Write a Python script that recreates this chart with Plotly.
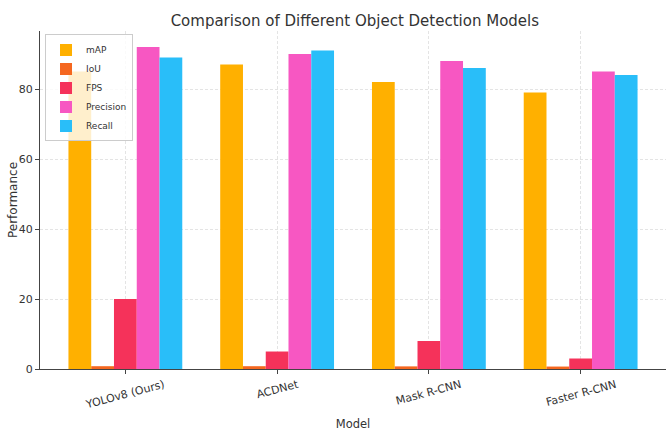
import plotly.graph_objects as go

models = ["YOLOv8 (Ours)", "ACDNet", "Mask R-CNN", "Faster R-CNN"]
mAP = [85, 87, 82, 79]
iou = [0.8, 0.8, 0.75, 0.7]
fps = [20, 5, 8, 3]
precision = [92, 90, 88, 85]
recall = [89, 91, 86, 84]

series = [("mAP", mAP, "#FFB000"), ("IoU", iou, "#F5671F"), ("FPS", fps, "#F5325A"),
          ("Precision", precision, "#F757C2"), ("Recall", recall, "#29BEF9")]

fig = go.Figure()
for name, vals, col in series:
    fig.add_trace(go.Bar(x=models, y=vals, name=name, marker=dict(color=col, line=dict(width=0))))

font = "DejaVu Sans, sans-serif"
for m in models:
    fig.add_annotation(x=m, y=0, xref="x", yref="y", text=m, showarrow=False, textangle=-15,
                       xanchor="center", yanchor="top", yshift=-6,
                       font=dict(size=11, color="#333", family=font))

# y-axis title
fig.add_annotation(x=0, y=0.5, xref="paper", yref="paper", text="Performance", showarrow=False,
                   textangle=-90, xanchor="center", yanchor="middle", xshift=-27,
                   font=dict(size=12, color="#333", family=font))

fig.update_layout(
    width=667, height=431,
    margin=dict(l=40, r=1, t=31, b=62),
    paper_bgcolor="white", plot_bgcolor="white",
    barmode="group", bargap=0.25, bargroupgap=0,
    font=dict(family=font, size=11, color="#333"),
    title=dict(text="Comparison of Different Object Detection Models", x=0.532, xanchor="center",
               y=0.953, yanchor="middle", font=dict(size=15, color="#333")),
    legend=dict(x=0.008, y=0.99, xanchor="left", yanchor="top", bgcolor="rgba(255,255,255,0.8)",
                bordercolor="#ccc", borderwidth=1, font=dict(size=9, color="#333"),
                itemwidth=30, tracegroupgap=0),
    xaxis=dict(range=[-0.5625, 3.5625], showgrid=True, gridcolor="#e4e4e4", griddash="3px,2px", gridwidth=1,
               showline=True, linecolor="#444", linewidth=1, ticks="outside", ticklen=4, tickcolor="#444",
               showticklabels=False, automargin=False,
               title=dict(text="Model", font=dict(size=11.5, color="#333"), standoff=47)),
    yaxis=dict(range=[0, 96.6], showgrid=True, gridcolor="#e4e4e4", griddash="3px,2px", gridwidth=1,
               showline=True, linecolor="#444", linewidth=1, ticks="outside", ticklen=4, tickcolor="#444",
               tickvals=[0, 20, 40, 60, 80], zeroline=False, tickfont=dict(size=11, color="#333"),
               automargin=False),
)
fig.write_html("out.html", config={"displayModeBar": False},
               post_script="document.body.style.margin='0';")
